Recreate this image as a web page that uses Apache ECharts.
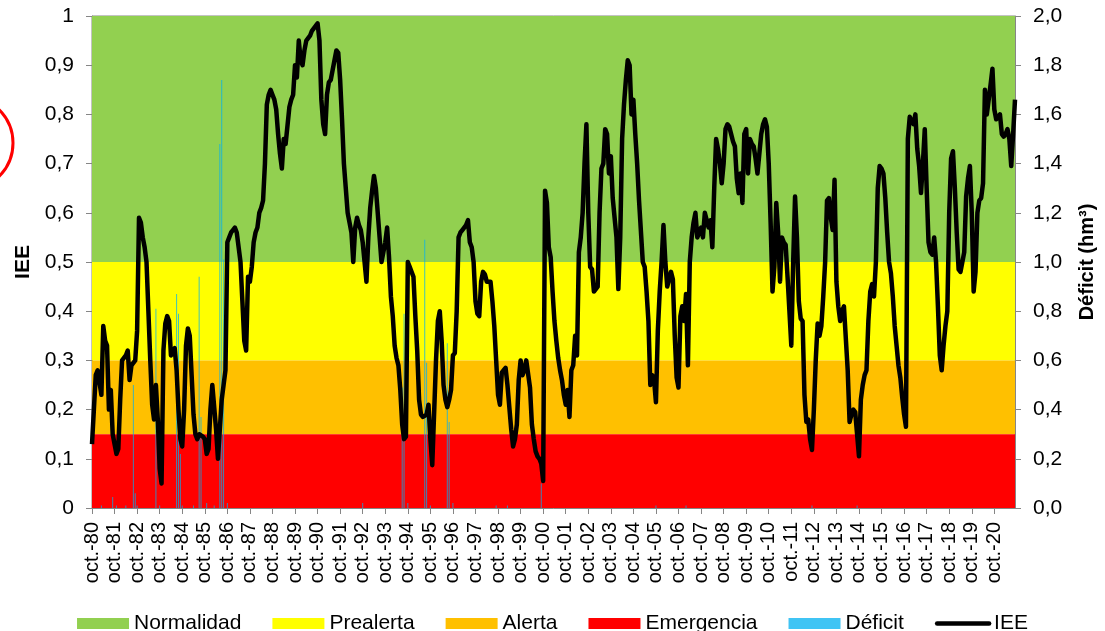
<!DOCTYPE html>
<html>
<head>
<meta charset="utf-8">
<script src="https://cdn.jsdelivr.net/npm/echarts@6/dist/echarts.min.js"></script>
<style>
  html, body { margin: 0; padding: 0; background: #fff; }
  #chart { width: 1105px; height: 631px; }
</style>
</head>
<body>
<div id="chart"></div>
<script>
// hydrological years oct.-80 ... sep.-21, one value per month
const monthNames = ['oct.', 'nov.', 'dic.', 'ene.', 'feb.', 'mar.', 'abr.', 'may.', 'jun.', 'jul.', 'ago.', 'sep.']
const years = ['80', '81', '82', '83', '84', '85', '86', '87', '88', '89', '90', '91', '92', '93',
  '94', '95', '96', '97', '98', '99', '00', '01', '02', '03', '04', '05', '06', '07', '08', '09',
  '10', '11', '12', '13', '14', '15', '16', '17', '18', '19', '20', '21']

// IEE index, one row per hydrological year (oct -> sep)
const iee = [
  0.13, 0.20, 0.27, 0.28, 0.28, 0.23, 0.37, 0.34, 0.33, 0.20, 0.24, 0.15,
  0.13, 0.11, 0.12, 0.22, 0.30, 0.30, 0.31, 0.32, 0.26, 0.29, 0.29, 0.30,
  0.36, 0.59, 0.58, 0.55, 0.53, 0.50, 0.40, 0.30, 0.21, 0.18, 0.25, 0.18,
  0.08, 0.05, 0.32, 0.375, 0.39, 0.38, 0.31, 0.315, 0.325, 0.28, 0.20, 0.14,
  0.125, 0.20, 0.33, 0.365, 0.35, 0.27, 0.19, 0.15, 0.14, 0.15, 0.15, 0.145,
  0.14, 0.11, 0.12, 0.20, 0.25, 0.25, 0.16, 0.10, 0.16, 0.22, 0.25, 0.28,
  0.54, 0.55, 0.56, 0.565, 0.57, 0.56, 0.53, 0.50, 0.42, 0.34, 0.32, 0.47,
  0.46, 0.49, 0.54, 0.56, 0.57, 0.60, 0.61, 0.625, 0.70, 0.82, 0.84, 0.85,
  0.84, 0.83, 0.81, 0.76, 0.72, 0.69, 0.75, 0.74, 0.74, 0.815, 0.83, 0.84,
  0.90, 0.875, 0.95, 0.91, 0.90, 0.93, 0.95, 0.955, 0.96, 0.97, 0.975, 0.98,
  0.985, 0.95, 0.83, 0.78, 0.76, 0.84, 0.865, 0.87, 0.89, 0.91, 0.93, 0.925,
  0.87, 0.79, 0.70, 0.65, 0.60, 0.58, 0.56, 0.50, 0.57, 0.59, 0.575, 0.565,
  0.54, 0.50, 0.46, 0.55, 0.61, 0.645, 0.675, 0.65, 0.60, 0.55, 0.50, 0.52,
  0.54, 0.57, 0.51, 0.43, 0.39, 0.33, 0.305, 0.29, 0.24, 0.17, 0.14, 0.145,
  0.50, 0.49, 0.48, 0.47, 0.39, 0.32, 0.22, 0.19, 0.185, 0.185, 0.19, 0.21,
  0.14, 0.087, 0.09, 0.30, 0.38, 0.40, 0.34, 0.25, 0.22, 0.205, 0.22, 0.24,
  0.31, 0.315, 0.40, 0.55, 0.56, 0.565, 0.57, 0.575, 0.585, 0.54, 0.53, 0.50,
  0.42, 0.395, 0.39, 0.46, 0.48, 0.475, 0.46, 0.46, 0.46, 0.42, 0.37, 0.30,
  0.23, 0.21, 0.275, 0.28, 0.285, 0.25, 0.205, 0.16, 0.125, 0.14, 0.17, 0.26,
  0.30, 0.27, 0.28, 0.30, 0.30, 0.245, 0.17, 0.14, 0.115, 0.105, 0.10, 0.09,
  0.055, 0.645, 0.62, 0.53, 0.51, 0.44, 0.38, 0.34, 0.305, 0.28, 0.26, 0.23,
  0.21, 0.24, 0.185, 0.28, 0.29, 0.35, 0.31, 0.52, 0.55, 0.60, 0.70, 0.78,
  0.60, 0.49, 0.485, 0.44, 0.44, 0.45, 0.60, 0.69, 0.70, 0.77, 0.76, 0.68,
  0.715, 0.63, 0.59, 0.55, 0.445, 0.55, 0.75, 0.82, 0.87, 0.91, 0.90, 0.80,
  0.83, 0.76, 0.70, 0.625, 0.625, 0.50, 0.49, 0.44, 0.38, 0.25, 0.27, 0.26,
  0.215, 0.36, 0.44, 0.50, 0.575, 0.50, 0.45, 0.465, 0.48, 0.465, 0.35, 0.265,
  0.245, 0.39, 0.41, 0.38, 0.435, 0.29, 0.50, 0.55, 0.58, 0.60, 0.55, 0.56,
  0.57, 0.55, 0.60, 0.60, 0.57, 0.585, 0.53, 0.65, 0.75, 0.73, 0.70, 0.66,
  0.70, 0.77, 0.78, 0.775, 0.76, 0.745, 0.735, 0.67, 0.64, 0.68, 0.62, 0.76,
  0.77, 0.68, 0.75, 0.74, 0.735, 0.71, 0.68, 0.72, 0.76, 0.78, 0.79, 0.775,
  0.70, 0.58, 0.44, 0.49, 0.62, 0.56, 0.46, 0.55, 0.54, 0.535, 0.47, 0.40,
  0.33, 0.50, 0.633, 0.55, 0.42, 0.385, 0.38, 0.23, 0.175, 0.18, 0.14, 0.118,
  0.20, 0.30, 0.375, 0.35, 0.37, 0.43, 0.50, 0.625, 0.63, 0.59, 0.565, 0.667,
  0.46, 0.41, 0.38, 0.40, 0.41, 0.41, 0.28, 0.175, 0.19, 0.20, 0.195, 0.15,
  0.105, 0.22, 0.25, 0.27, 0.28, 0.38, 0.44, 0.455, 0.43, 0.50, 0.65, 0.695,
  0.69, 0.68, 0.63, 0.56, 0.50, 0.477, 0.43, 0.37, 0.33, 0.29, 0.265, 0.225,
  0.19, 0.165, 0.75, 0.795, 0.785, 0.78, 0.80, 0.73, 0.695, 0.64, 0.70, 0.77,
  0.65, 0.54, 0.52, 0.515, 0.55, 0.50, 0.41, 0.31, 0.28, 0.33, 0.37, 0.40,
  0.60, 0.71, 0.725, 0.65, 0.56, 0.485, 0.48, 0.48, 0.52, 0.633, 0.67, 0.695,
  0.60, 0.44, 0.48, 0.60, 0.625, 0.63, 0.66, 0.85, 0.80, 0.80, 0.86, 0.893,
  0.81, 0.79, 0.795, 0.80, 0.76, 0.755, 0.76, 0.77, 0.75, 0.695, 0.76, 0.83
]

// Déficit (hm3): [month index, value], months without deficit are left out
const deficit = [
  [5, 0.01], [11, 0.045], [13, 0.01], [18, 0.01], [22, 0.50], [23, 0.06], [24, 0.01],
  [34, 0.81], [36, 0.01], [45, 0.87], [46, 0.79], [47, 0.22], [48, 0.01], [54, 0.01],
  [57, 0.94], [58, 0.37], [61, 0.02], [65, 0.01], [68, 1.48], [69, 1.74], [70, 1.01],
  [72, 0.02], [144, 0.02], [165, 0.49], [166, 0.79], [168, 0.02], [177, 1.09], [178, 0.59],
  [180, 0.01], [189, 0.67], [190, 0.35], [192, 0.02], [215, 0.01], [221, 0.01], [239, 0.10],
  [300, 0.01], [316, 0.01], [383, 0.01], [407, 0.01]
]

// state thresholds of the IEE
const bandNames = ['Normalidad', 'Prealerta', 'Alerta', 'Emergencia']
const bandLimits = [[0.5, 1], [0.3, 0.5], [0.15, 0.3], [0, 0.15]]
const bandColors = ['#92D050', '#FFFF00', '#FFC000', '#FF0000']

const categories = []
years.slice(0, years.length - 1).forEach((yy, k) => {
  monthNames.forEach((m, j) => {
    categories.push(m + '-' + (j < 3 ? yy : years[k + 1]))
  })
})

const font = 'Liberation Sans, Arial, sans-serif'
const comma = (v, digits) => v.toFixed(digits).replace('.', ',')

const chart = echarts.init(document.getElementById('chart'))

const bandSeries = bandNames.map((name, i) => ({
  name: name,
  type: 'line',
  data: [],
  yAxisIndex: 0,
  itemStyle: { color: bandColors[i] },
  markArea: {
    silent: true,
    itemStyle: { color: bandColors[i], opacity: 1 },
    data: [[{ yAxis: bandLimits[i][0] }, { yAxis: bandLimits[i][1] }]]
  }
}))

chart.setOption({
  animation: false,
  textStyle: { fontFamily: font },
  graphic: [{
    type: 'circle',
    shape: { cx: -34, cy: 143, r: 47 },
    style: { fill: 'none', stroke: '#FF0000', lineWidth: 3 }
  }],
  grid: {
    left: 92, right: 89, top: 16, bottom: 123,
    show: true, borderColor: '#868686', borderWidth: 1
  },
  legend: {
    bottom: -8,
    left: 'center',
    itemWidth: 52,
    itemHeight: 11,
    itemGap: 31,
    textStyle: { fontFamily: font, fontSize: 21, color: '#000' },
    data: [
      { name: 'Normalidad', icon: 'rect' },
      { name: 'Prealerta', icon: 'rect' },
      { name: 'Alerta', icon: 'rect' },
      { name: 'Emergencia', icon: 'rect' },
      { name: 'Déficit', icon: 'rect' },
      {
        name: 'IEE',
        itemStyle: { color: 'rgba(0,0,0,0)', borderWidth: 0 },
        lineStyle: { width: 4.5, color: '#000', cap: 'round' }
      }
    ]
  },
  xAxis: {
    type: 'category',
    data: categories,
    boundaryGap: false,
    axisLine: { lineStyle: { color: '#868686' } },
    axisTick: { interval: 11, length: 6, lineStyle: { color: '#868686' } },
    axisLabel: {
      interval: 11, rotate: 90, margin: 14,
      fontFamily: font, fontSize: 20, color: '#000'
    },
    splitLine: { show: false }
  },
  yAxis: [
    {
      type: 'value', min: 0, max: 1, interval: 0.1,
      name: 'IEE', nameLocation: 'middle', nameGap: 55, nameRotate: 90,
      nameTextStyle: { fontFamily: font, fontSize: 21, fontWeight: 'bold', color: '#000' },
      axisLine: { show: true, lineStyle: { color: '#868686' } },
      axisTick: { show: true, length: 6, lineStyle: { color: '#868686' } },
      axisLabel: {
        margin: 18, fontFamily: font, fontSize: 21, color: '#000',
        formatter: v => (v === 0 || v === 1) ? String(v) : comma(v, 1)
      },
      splitLine: { show: false }
    },
    {
      type: 'value', min: 0, max: 2, interval: 0.2, position: 'right',
      name: 'Déficit (hm³)', nameLocation: 'middle', nameGap: 62, nameRotate: 90,
      nameTextStyle: { fontFamily: font, fontSize: 20, fontWeight: 'bold', color: '#000' },
      axisLine: { show: true, lineStyle: { color: '#868686' } },
      axisTick: { show: true, length: 6, lineStyle: { color: '#868686' } },
      axisLabel: {
        margin: 18, fontFamily: font, fontSize: 21, color: '#000',
        formatter: v => comma(v, 1)
      },
      splitLine: { show: false }
    }
  ],
  series: [
    ...bandSeries,
    {
      name: 'Déficit',
      type: 'bar',
      yAxisIndex: 1,
      barWidth: 1,
      data: deficit,
      itemStyle: { color: '#00B0F0', opacity: 0.75 },
      z: 2
    },
    {
      name: 'IEE',
      type: 'line',
      yAxisIndex: 0,
      data: iee,
      showSymbol: false,
      symbol: 'none',
      lineStyle: { color: '#000', width: 4.5, join: 'round' },
      itemStyle: { color: '#000' },
      z: 5
    }
  ]
})

window.addEventListener('resize', () => chart.resize())
</script>
</body>
</html>
